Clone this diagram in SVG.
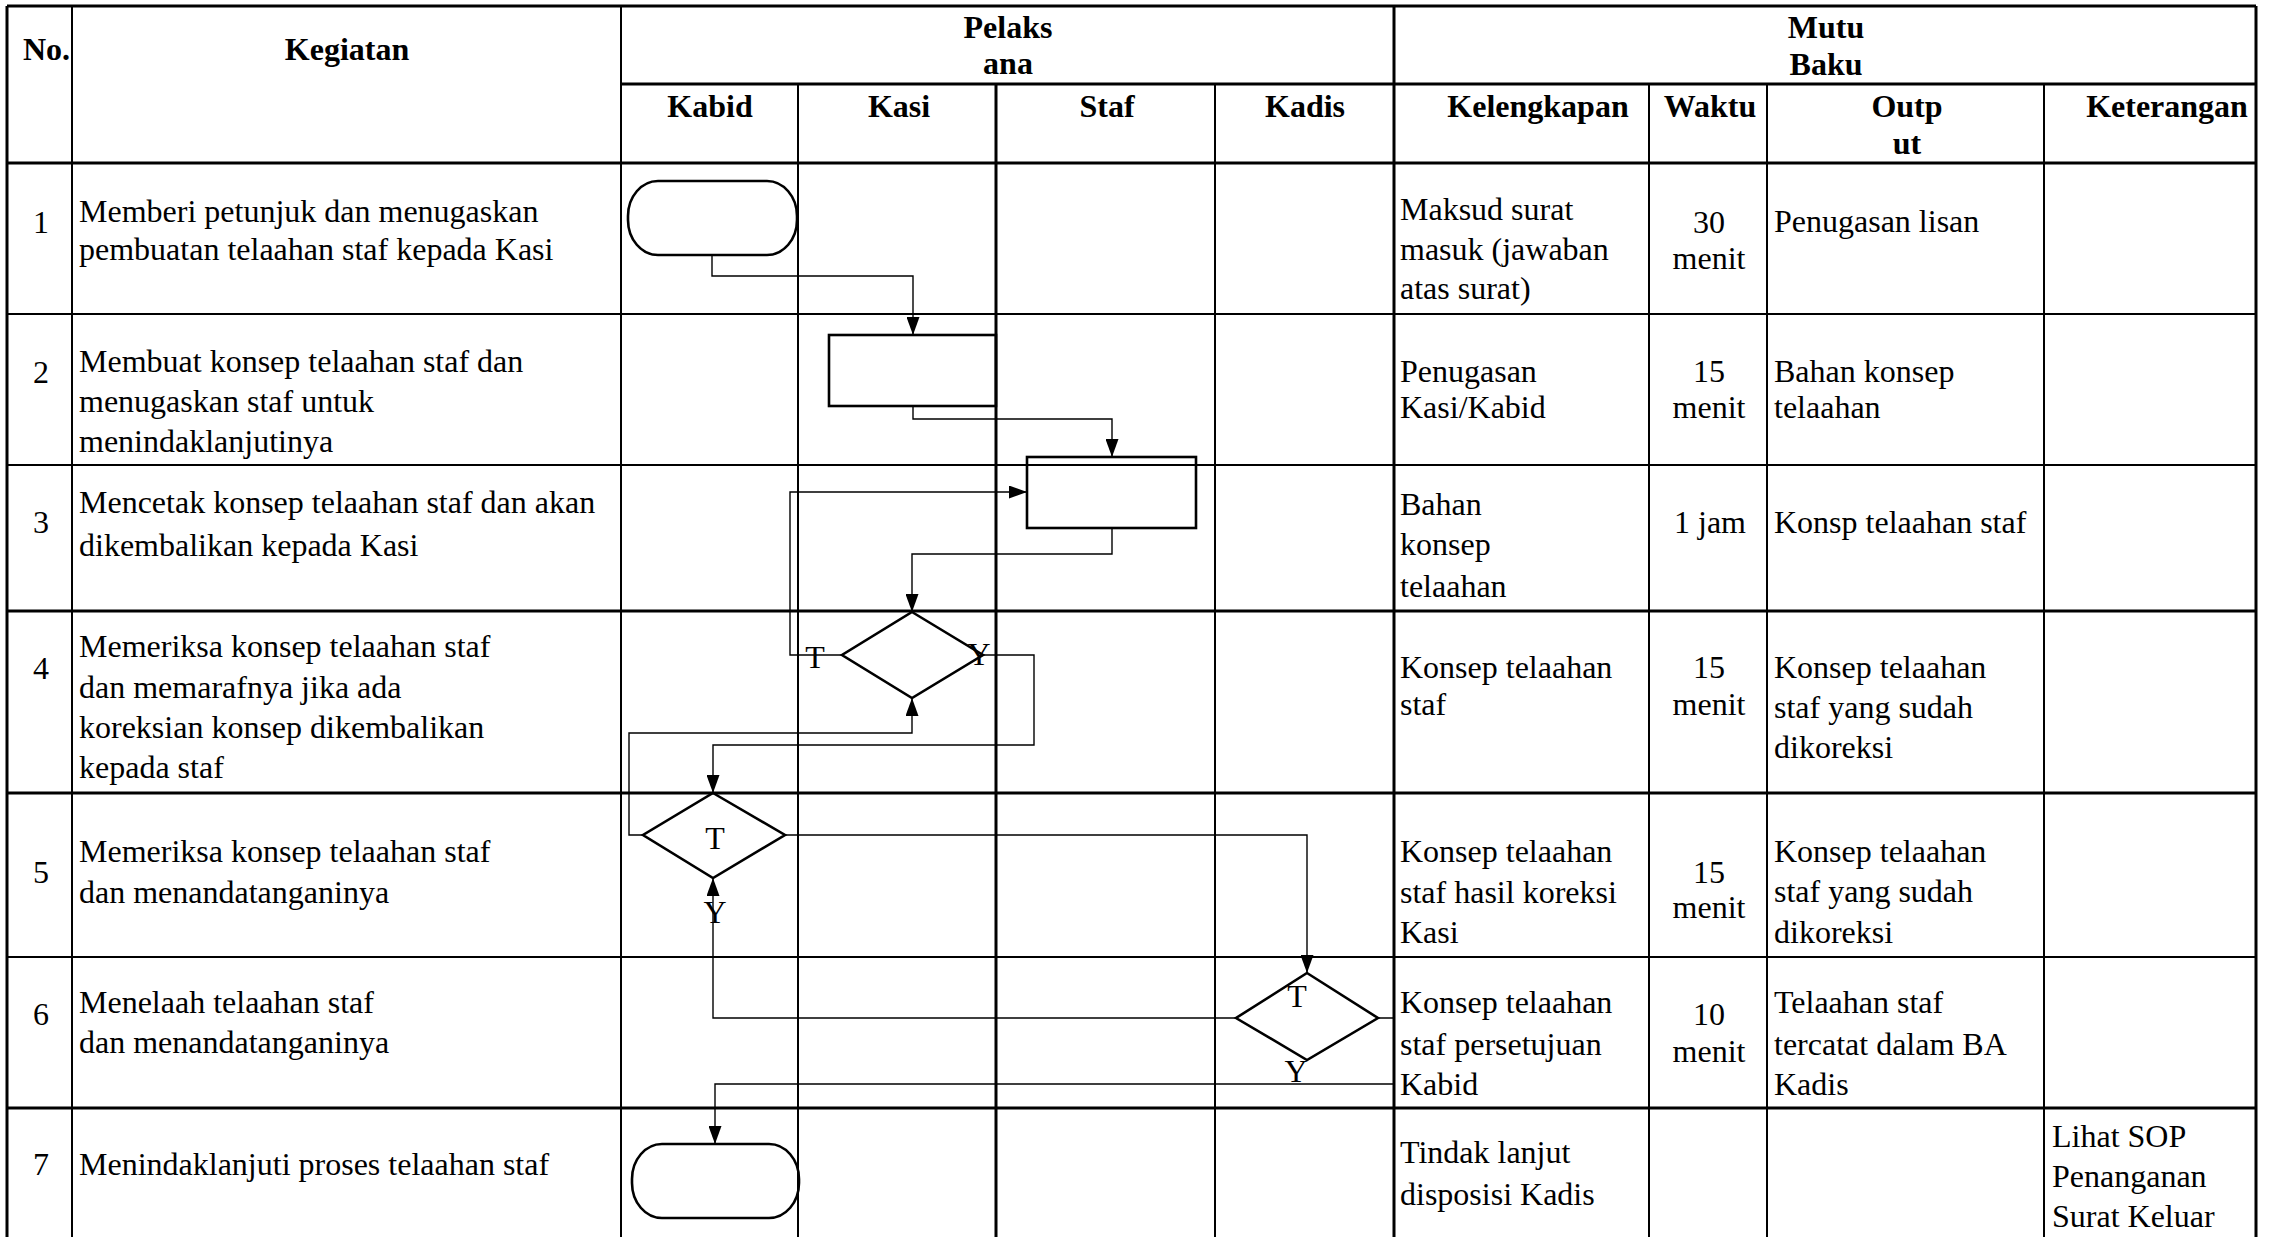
<svg xmlns="http://www.w3.org/2000/svg" width="2273" height="1237" viewBox="0 0 2273 1237">
<style>
.g{stroke:#000;stroke-width:2;fill:none}
.gt{stroke:#000;stroke-width:3;fill:none}
.s{stroke:#000;stroke-width:2.6;fill:none}
.c{stroke:#000;stroke-width:1.4;fill:none}
text{font-family:"Liberation Serif","Times New Roman",serif;font-size:32px;fill:#000}
.h{font-weight:bold}
.m{text-anchor:middle}
</style>
<defs>
<marker id="arr" markerUnits="userSpaceOnUse" markerWidth="18" markerHeight="13" refX="18" refY="6.5" orient="auto">
<path d="M0,0 L18,6.5 L0,13 Z" fill="#000"/>
</marker>
</defs>
<rect width="2273" height="1237" fill="#fff"/>

<g id="grid">
<line class="gt" x1="7" y1="6" x2="2256" y2="6"/>
<line class="gt" x1="7" y1="6" x2="7" y2="1237"/>
<line class="gt" x1="2256" y1="6" x2="2256" y2="1237"/>
<line class="gt" x1="621" y1="84" x2="2256" y2="84"/>
<line class="gt" x1="7" y1="163" x2="2256" y2="163"/>
<line class="g" x1="7" y1="314" x2="2256" y2="314"/>
<line class="g" x1="7" y1="465" x2="2256" y2="465"/>
<line class="gt" x1="7" y1="611" x2="2256" y2="611"/>
<line class="gt" x1="7" y1="793" x2="2256" y2="793"/>
<line class="g" x1="7" y1="957" x2="2256" y2="957"/>
<line class="gt" x1="7" y1="1108" x2="2256" y2="1108"/>
<line class="g" x1="72" y1="6" x2="72" y2="1237"/>
<line class="g" x1="621" y1="6" x2="621" y2="1237"/>
<line class="g" x1="798" y1="84" x2="798" y2="1237"/>
<line class="gt" x1="996" y1="84" x2="996" y2="1237"/>
<line class="g" x1="1215" y1="84" x2="1215" y2="1237"/>
<line class="gt" x1="1394" y1="6" x2="1394" y2="1237"/>
<line class="g" x1="1649" y1="84" x2="1649" y2="1237"/>
<line class="g" x1="1767" y1="84" x2="1767" y2="1237"/>
<line class="g" x1="2044" y1="84" x2="2044" y2="1237"/>
</g>

<g id="header">
<text class="h" x="23" y="60">No.</text>
<text class="h m" x="347" y="60">Kegiatan</text>
<text class="h m" x="1008" y="38">Pelaks</text>
<text class="h m" x="1008" y="74">ana</text>
<text class="h m" x="1826" y="38">Mutu</text>
<text class="h m" x="1826" y="75">Baku</text>
<text class="h m" x="710" y="117">Kabid</text>
<text class="h m" x="899" y="117">Kasi</text>
<text class="h m" x="1107" y="117">Staf</text>
<text class="h m" x="1305" y="117">Kadis</text>
<text class="h m" x="1538" y="117">Kelengkapan</text>
<text class="h m" x="1710" y="117">Waktu</text>
<text class="h m" x="1907" y="117">Outp</text>
<text class="h m" x="1907" y="154">ut</text>
<text class="h m" x="2167" y="117">Keterangan</text>
</g>

<g id="row1">
<text class="m" x="41" y="233">1</text>
<text x="79" y="222">Memberi petunjuk dan menugaskan</text>
<text x="79" y="260">pembuatan telaahan staf kepada Kasi</text>
<text x="1400" y="220">Maksud surat</text>
<text x="1400" y="260">masuk (jawaban</text>
<text x="1400" y="299">atas surat)</text>
<text class="m" x="1709" y="233">30</text>
<text class="m" x="1709" y="269">menit</text>
<text x="1774" y="232">Penugasan lisan</text>
</g>
<g id="row2">
<text class="m" x="41" y="383">2</text>
<text x="79" y="372">Membuat konsep telaahan staf dan</text>
<text x="79" y="412">menugaskan staf untuk</text>
<text x="79" y="452">menindaklanjutinya</text>
<text x="1400" y="382">Penugasan</text>
<text x="1400" y="418">Kasi/Kabid</text>
<text class="m" x="1709" y="382">15</text>
<text class="m" x="1709" y="418">menit</text>
<text x="1774" y="382">Bahan konsep</text>
<text x="1774" y="418">telaahan</text>
</g>
<g id="row3">
<text class="m" x="41" y="533">3</text>
<text x="79" y="513">Mencetak konsep telaahan staf dan akan</text>
<text x="79" y="556">dikembalikan kepada Kasi</text>
<text x="1400" y="515">Bahan</text>
<text x="1400" y="555">konsep</text>
<text x="1400" y="597">telaahan</text>
<text class="m" x="1710" y="533">1 jam</text>
<text x="1774" y="533">Konsp telaahan staf</text>
</g>
<g id="row4">
<text class="m" x="41" y="679">4</text>
<text x="79" y="657">Memeriksa konsep telaahan staf</text>
<text x="79" y="698">dan memarafnya jika ada</text>
<text x="79" y="738">koreksian konsep dikembalikan</text>
<text x="79" y="778">kepada staf</text>
<text x="1400" y="678">Konsep telaahan</text>
<text x="1400" y="715">staf</text>
<text class="m" x="1709" y="678">15</text>
<text class="m" x="1709" y="715">menit</text>
<text x="1774" y="678">Konsep telaahan</text>
<text x="1774" y="718">staf yang sudah</text>
<text x="1774" y="758">dikoreksi</text>
</g>
<g id="row5">
<text class="m" x="41" y="883">5</text>
<text x="79" y="862">Memeriksa konsep telaahan staf</text>
<text x="79" y="903">dan menandatanganinya</text>
<text x="1400" y="862">Konsep telaahan</text>
<text x="1400" y="903">staf hasil koreksi</text>
<text x="1400" y="943">Kasi</text>
<text class="m" x="1709" y="883">15</text>
<text class="m" x="1709" y="918">menit</text>
<text x="1774" y="862">Konsep telaahan</text>
<text x="1774" y="902">staf yang sudah</text>
<text x="1774" y="943">dikoreksi</text>
</g>
<g id="row6">
<text class="m" x="41" y="1025">6</text>
<text x="79" y="1013">Menelaah telaahan staf</text>
<text x="79" y="1053">dan menandatanganinya</text>
<text x="1400" y="1013">Konsep telaahan</text>
<text x="1400" y="1055">staf persetujuan</text>
<text x="1400" y="1095">Kabid</text>
<text class="m" x="1709" y="1025">10</text>
<text class="m" x="1709" y="1062">menit</text>
<text x="1774" y="1013">Telaahan staf</text>
<text x="1774" y="1055">tercatat dalam BA</text>
<text x="1774" y="1095">Kadis</text>
</g>
<g id="row7">
<text class="m" x="41" y="1175">7</text>
<text x="79" y="1175">Menindaklanjuti proses telaahan staf</text>
<text x="1400" y="1163">Tindak lanjut</text>
<text x="1400" y="1205">disposisi Kadis</text>
<text x="2052" y="1147">Lihat SOP</text>
<text x="2052" y="1187">Penanganan</text>
<text x="2052" y="1227">Surat Keluar</text>
</g>

<g id="connectors">
<polyline class="c" points="712,255 712,276 913,276 913,335" marker-end="url(#arr)"/>
<polyline class="c" points="913,406 913,419 1112,419 1112,457" marker-end="url(#arr)"/>
<polyline class="c" points="1112,528 1112,554 912,554 912,612" marker-end="url(#arr)"/>
<polyline class="c" points="842,655 790,655 790,492 1027,492" marker-end="url(#arr)"/>
<polyline class="c" points="983,655 1034,655 1034,745 713,745 713,793" marker-end="url(#arr)"/>
<polyline class="c" points="643,835 629,835 629,733 912,733 912,698" marker-end="url(#arr)"/>
<polyline class="c" points="785,835 1307,835 1307,973" marker-end="url(#arr)"/>
<polyline class="c" points="1236,1018 713,1018 713,878" marker-end="url(#arr)"/>
<polyline class="c" points="1378,1018 1394,1018 1394,1084 715,1084 715,1144" marker-end="url(#arr)"/>
</g>

<g id="n1"><rect class="s" x="628" y="181" width="169" height="74" rx="30" ry="35"/></g>
<g id="n2"><rect class="s" x="829" y="335" width="167" height="71"/></g>
<g id="n3"><rect class="s" x="1027" y="457" width="169" height="71"/></g>
<g id="n4">
<polygon class="s" points="912,612 983,655 912,698 842,655"/>
<text class="m" x="815" y="668">T</text>
<text class="m" x="979" y="665">Y</text>
</g>
<g id="n5">
<polygon class="s" points="713,793 785,835 713,878 643,835"/>
<text class="m" x="715" y="849">T</text>
<text class="m" x="715" y="923">Y</text>
</g>
<g id="n6">
<polygon class="s" points="1307,973 1378,1018 1307,1060 1236,1018"/>
<text class="m" x="1297" y="1007">T</text>
<text class="m" x="1296" y="1082">Y</text>
</g>
<g id="n7"><rect class="s" x="632" y="1144" width="167" height="74" rx="30" ry="35"/></g>
</svg>
